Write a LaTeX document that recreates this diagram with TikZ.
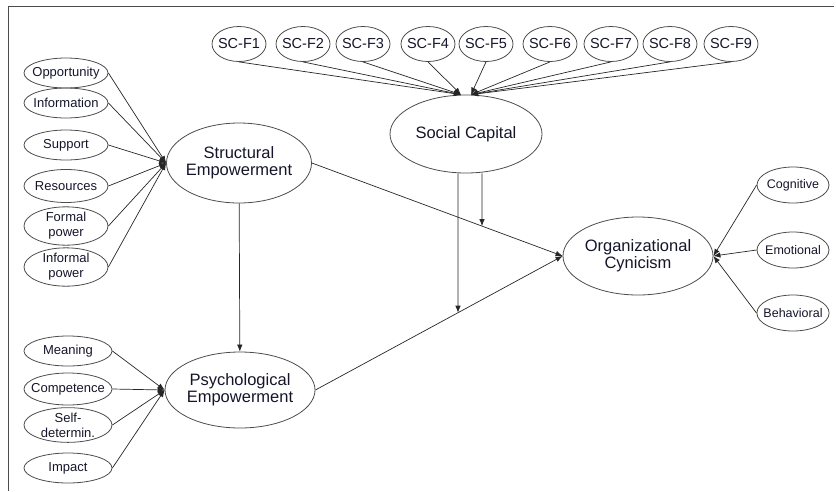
\documentclass[tikz,border=0pt]{standalone}
\usepackage{fontspec}
\setmainfont{Liberation Sans}
\usetikzlibrary{shapes.geometric,arrows.meta,calc,intersections}
\definecolor{txt}{HTML}{15152A}
\begin{document}
\begin{tikzpicture}[x=1pt,y=-1pt,
  base/.style={ellipse,draw=black!70,line width=0.8pt,inner sep=0pt,align=center,text=txt},
  lat/.style={base,inner xsep=-4pt,font=\fontsize{16.5}{17}\selectfont},
  ind/.style={base,inner xsep=-7pt,minimum width=84pt,minimum height=30pt,font=\fontsize{13}{15}\selectfont},
  indb/.style={base,inner xsep=-7pt,minimum width=88pt,minimum height=30pt,font=\fontsize{13}{15}\selectfont},
  scf/.style={base,inner xsep=-3pt,minimum width=54pt,minimum height=35pt,font=\fontsize{14.5}{16}\selectfont},
  cyn/.style={base,inner xsep=-4pt,minimum width=72pt,minimum height=36pt,font=\fontsize{12.5}{14}\selectfont},
  conn/.style={draw=black!85,line width=0.7pt,-{Latex[length=7pt,width=5.5pt]}},
  frame/.style={draw=black!70,line width=1pt}
]
\useasboundingbox (0,0) rectangle (836,491);
\coordinate (fTL) at (8,6);
\coordinate (fTR) at (834,6);
\coordinate (fBL) at (8,491);
\draw[frame] (fTR) -- (fTL) -- (fBL);

% latent constructs
\node[lat,minimum width=145pt,minimum height=80pt] (SE) at (239,163) {Structural\\Empowerment};
\node[lat,minimum width=150pt,minimum height=76pt] (PE) at (240,390) {Psychological\\Empowerment};
\node[lat,minimum width=152pt,minimum height=78pt] (SC) at (466,134) {Social Capital};
\node[lat,minimum width=150pt,minimum height=78pt] (OC) at (638,256) {Organizational\\Cynicism};

% structural empowerment indicators
\node[ind] (opp) at (66,73) {Opportunity};
\node[ind] (inf) at (66,103) {Information};
\node[ind] (sup) at (66,145) {Support};
\node[ind,minimum height=33pt] (res) at (66,186) {Resources};
\node[ind,minimum height=35pt] (fp) at (66,226) {Formal\\power};
\node[ind,minimum height=35pt] (ip) at (66,267) {Informal\\power};

% psychological empowerment indicators
\node[indb] (mea) at (68,351) {Meaning};
\node[indb,minimum height=32pt] (com) at (68,389) {Competence};
\node[indb,minimum height=31pt] (sd) at (68,425) {Self-\\determin.};
\node[indb] (imp) at (68,468) {Impact};

% social capital indicators
\node[scf] (f1) at (239,44) {SC-F1};
\node[scf] (f2) at (303,44) {SC-F2};
\node[scf] (f3) at (363,44) {SC-F3};
\node[scf] (f4) at (428,44) {SC-F4};
\node[scf] (f5) at (486,44) {SC-F5};
\node[scf] (f6) at (550,44) {SC-F6};
\node[scf] (f7) at (611,44) {SC-F7};
\node[scf] (f8) at (670,44) {SC-F8};
\node[scf] (f9) at (731,44) {SC-F9};

% cynicism indicators
\node[cyn] (cog) at (793,185) {Cognitive};
\node[cyn] (emo) at (793,250) {Emotional};
\node[cyn] (beh) at (793,313) {Behavioral};

% indicator arrows
\foreach \n in {opp,inf,sup,res,fp,ip} \draw[conn] (\n.east) -- (SE.west);
\foreach \n in {mea,com,sd,imp} \draw[conn] (\n.east) -- (PE.west);
\foreach \n in {f1,f2,f3,f4} \draw[conn] (\n.south) -- ([xshift=-5pt]SC.north);
\foreach \n in {f5,f6,f7,f8,f9} \draw[conn] (\n.south) -- ([xshift=5pt]SC.north);
\foreach \n in {cog,emo,beh} \draw[conn] (\n.west) -- (OC.east);

% structural paths
\draw[conn] (SE) -- (PE);
\draw[conn,name path=seoc] (SE.east) -- (OC.west);
\draw[conn,name path=peoc] (PE.east) -- (OC.west);

% moderation arrows from social capital
\coordinate (sa) at ([xshift=16pt]SC.south);
\coordinate (sb) at ([xshift=-8pt]SC.south);
\path[name path=va] (sa) -- ++(0,200);
\path[name path=vb] (sb) -- ++(0,250);
\path[name intersections={of=seoc and va,by=ta}];
\path[name intersections={of=peoc and vb,by=tb}];
\draw[conn] (sa) -- (ta);
\draw[conn] (sb) -- (tb);
\end{tikzpicture}
\end{document}
